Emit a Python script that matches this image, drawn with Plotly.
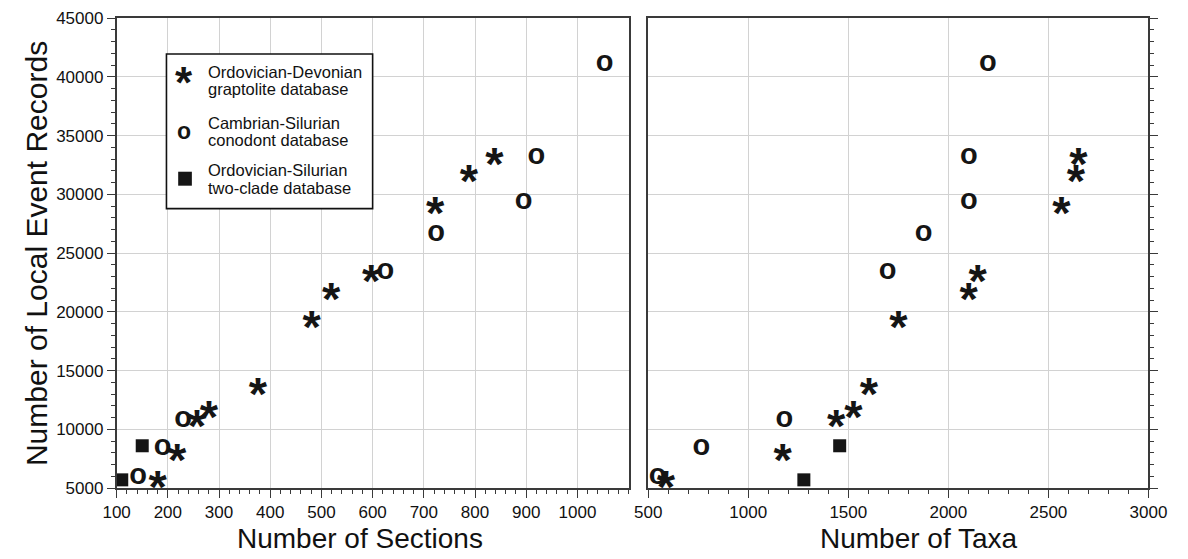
import plotly.graph_objects as go

# Local event records (shared by both panels) with section and taxon counts
grapt_records = [6000, 8300, 11200, 11900, 13900, 19600, 22000, 23500, 29300, 32000, 33450]
grapt_sections = [180, 218, 257, 280, 376, 481, 519, 597, 722, 788, 838]
grapt_taxa = [588, 1172, 1440, 1525, 1603, 1751, 2102, 2147, 2565, 2638, 2650]

cono_records = [6000, 8400, 10800, 23400, 26600, 29400, 33200, 41100]
cono_sections = [142, 190, 230, 625, 724, 895, 920, 1053]
cono_taxa = [547, 766, 1181, 1697, 1876, 2102, 2102, 2198]

twoclade_records = [5700, 8600]
twoclade_sections = [110, 150]
twoclade_taxa = [1278, 1457]

sections_ticks = [100, 200, 300, 400, 500, 600, 700, 800, 900, 1000]
taxa_ticks = [500, 1000, 1500, 2000, 2500, 3000]
records_ticks = [5000, 10000, 15000, 20000, 25000, 30000, 35000, 40000, 45000]

legend_labels = [
    ("Ordovician-Devonian", "graptolite database"),
    ("Cambrian-Silurian", "conodont database"),
    ("Ordovician-Silurian", "two-clade database"),
]

W, H = 1188, 559
FONT = "Liberation Sans, Arial, sans-serif"
INK = "#151515"
AXIS = "#3a3a3a"
GRID = "#d2d2d2"

STAR_SIZE = 47
# the asterisk glyph sits high in its line box; a larger outer size lowers the baseline
STAR_TEXT = '<span style="font-size:%dpx">*</span>' % STAR_SIZE
STAR_OUTER = STAR_SIZE * 2.24

# page-pixel layout helpers (slight correction for the page's rendered scale)
SX, SY = 0.995, 0.968


def px(x):
    return (W / 2 + (x - W / 2) / SX) / W


def py(y):
    return 1 - (H / 2 + (y - H / 2) / SY) / H


def star_trace(x, y, xa, ya):
    return go.Scatter(
        x=x, y=y, xaxis=xa, yaxis=ya, mode="text",
        text=[STAR_TEXT] * len(x), textposition="middle center",
        textfont=dict(family=FONT, size=STAR_OUTER, color=INK, weight="bold"),
        cliponaxis=False, showlegend=False, hoverinfo="x+y",
    )


def o_trace(x, y, xa, ya):
    return go.Scatter(
        x=x, y=y, xaxis=xa, yaxis=ya, mode="text",
        text=["o"] * len(x), textposition="middle center",
        textfont=dict(family=FONT, size=29, color=INK, weight="bold"),
        cliponaxis=False, showlegend=False, hoverinfo="x+y",
    )


def square_trace(x, y, xa, ya):
    return go.Scatter(
        x=x, y=y, xaxis=xa, yaxis=ya, mode="markers",
        marker=dict(symbol="square", size=13, color=INK, line=dict(width=0)),
        cliponaxis=False, showlegend=False, hoverinfo="x+y",
    )


fig = go.Figure()
for xa, ya, gx, cx, tx in [
    ("x", "y", grapt_sections, cono_sections, twoclade_sections),
    ("x2", "y2", grapt_taxa, cono_taxa, twoclade_taxa),
]:
    fig.add_trace(square_trace(tx, twoclade_records, xa, ya))
    fig.add_trace(o_trace(cx, cono_records, xa, ya))
    fig.add_trace(star_trace(gx, grapt_records, xa, ya))

common = dict(
    showgrid=True, gridcolor=GRID, gridwidth=1.2,
    showline=True, linecolor=AXIS, linewidth=1.6, mirror=True,
    ticks="outside", ticklen=8, tickwidth=1.3, tickcolor=AXIS,
    tickfont=dict(family=FONT, size=17, color="#111"),
    zeroline=False, fixedrange=True,
)

y_dom = [py(489), py(18)]

fig.update_layout(
    width=W, height=H,
    margin=dict(l=0, r=0, t=0, b=0),
    paper_bgcolor="white", plot_bgcolor="white",
    showlegend=False,
    xaxis=dict(
        domain=[px(108), px(632)], range=[100, 1100], anchor="y",
        tickvals=sections_ticks,
        minor=dict(dtick=20, tick0=100, ticks="outside", ticklen=4, tickcolor=AXIS, showgrid=False),
        **common,
    ),
    yaxis=dict(
        domain=y_dom, range=[5000, 45000], anchor="x",
        tickvals=records_ticks, tickformat="d",
        minor=dict(dtick=1000, tick0=5000, ticks="outside", ticklen=4, tickcolor=AXIS, showgrid=False),
        **common,
    ),
    xaxis2=dict(
        domain=[px(652), px(1164)], range=[500, 3000], anchor="y2",
        tickvals=taxa_ticks, tickformat="d",
        minor=dict(dtick=100, tick0=500, ticks="outside", ticklen=4, tickcolor=AXIS, showgrid=False),
        **common,
    ),
    yaxis2=dict(
        domain=y_dom, range=[5000, 45000], anchor="x2", side="right",
        tickvals=records_ticks, showticklabels=False,
        minor=dict(dtick=1000, tick0=5000, ticks="outside", ticklen=4, tickcolor=AXIS, showgrid=False),
        **common,
    ),
)

annotations = []

# axis titles
title_font = dict(family=FONT, size=28, color="#111")
annotations.append(dict(text="Number of Sections", x=px(357), y=py(540), xref="paper", yref="paper",
                        showarrow=False, font=title_font, xanchor="center", yanchor="middle"))
annotations.append(dict(text="Number of Taxa", x=px(929), y=py(540), xref="paper", yref="paper",
                        showarrow=False, font=title_font, xanchor="center", yanchor="middle"))
annotations.append(dict(text="Number of Local Event Records", x=px(26), y=py(254), xref="paper", yref="paper",
                        showarrow=False, font=dict(family=FONT, size=30, color="#111"),
                        textangle=-90, xanchor="center", yanchor="middle"))

# legend box contents
legend_font = dict(family=FONT, size=16.5, color="#111")
line_centres = [(72, 89), (123, 140), (170, 188)]
for (l1, l2), (y1, y2) in zip(legend_labels, line_centres):
    for txt, yy in ((l1, y1), (l2, y2)):
        annotations.append(dict(text=txt, x=px(199), y=py(yy), xref="paper", yref="paper",
                                showarrow=False, font=legend_font, xanchor="left", yanchor="middle"))

annotations.append(dict(text="<b>*</b>", x=px(177), y=py(74), xref="paper", yref="paper", showarrow=False,
                        font=dict(family=FONT, size=44, color=INK), xanchor="center", yanchor="middle", yshift=-9))
annotations.append(dict(text="<b>o</b>", x=px(177), y=py(133), xref="paper", yref="paper", showarrow=False,
                        font=dict(family=FONT, size=23, color=INK), xanchor="center", yanchor="middle", yshift=2))

fig.update_layout(annotations=annotations)

fig.add_shape(type="rect", xref="paper", yref="paper", x0=px(159), x1=px(370), y0=py(209), y1=py(54),
              line=dict(color="#111", width=1.6), fillcolor="white", layer="above")
fig.add_shape(type="rect", xref="paper", yref="paper", x0=px(171), x1=px(185), y0=py(186), y1=py(172),
              line=dict(width=0), fillcolor=INK, layer="above")

fig.write_html("out.html")
